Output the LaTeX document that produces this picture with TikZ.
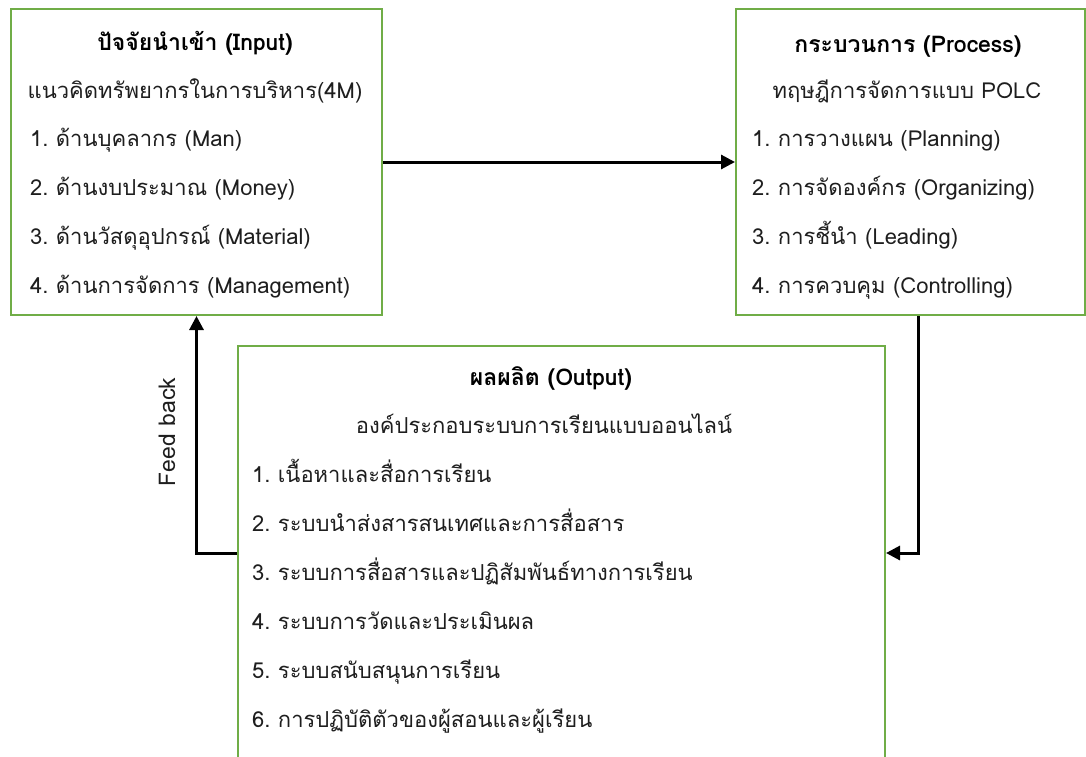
\documentclass[tikz,border=0pt]{standalone}
\usepackage{fontspec}
\setmainfont[Script=Thai]{Loma}
\usetikzlibrary{positioning}
\usetikzlibrary{arrows.meta}
\definecolor{boxgreen}{RGB}{112,173,71}
\definecolor{textgray}{RGB}{30,30,30}
\frenchspacing

\begin{document}
\begin{tikzpicture}[x=1pt, y=-1pt,
			box/.style={draw=boxgreen, line width=2pt, rectangle, anchor=north west, inner sep=0pt},
			txt/.style={font=\fontsize{22}{26}\selectfont, text=textgray, inner sep=0pt, text height=17pt, text depth=7pt},
			title/.style={txt, font=\bfseries\fontsize{23}{27}\selectfont, text=black},
			arrow/.style={-{Triangle[length=14pt, width=14pt]}, line width=3pt}
			]
			\useasboundingbox (0,0) rectangle (1086,756);
			\clip (0,0) rectangle (1086,756);
			
			% Boxes
			\node[box, minimum width=371pt, minimum height=306pt] (inbox) at (10,8) {};
			\node[box, minimum width=349pt, minimum height=306pt] (procbox) at (735,8) {};
			\node[box, minimum width=647pt, minimum height=414pt] (outbox) at (237,345) {};
			
			% Input
			\node[title] (intitle) at (195,45) {ปัจจัยนำเข้า (Input)};
			\node[txt] (insub) at (195,93) {แนวคิดทรัพยากรในการบริหาร(4M)};
			\foreach \t [count=\i] in {ด้านบุคลากร (Man), ด้านงบประมาณ (Money), ด้านวัสดุอุปกรณ์ (Material), ด้านการจัดการ (Management)}
			\node[txt, anchor=west] (initem\i) at (30,{92+49*\i}) {\i. \t};
			
			% Process
			\node[title] (proctitle) at (908,47) {กระบวนการ (Process)};
			\node[txt] (procsub) at (907,93) {ทฤษฎีการจัดการแบบ POLC};
			\foreach \t [count=\i] in {การวางแผน (Planning), การจัดองค์กร (Organizing), การชี้นำ (Leading), การควบคุม (Controlling)}
			\node[txt, anchor=west] (procitem\i) at (752,{92+49*\i}) {\i. \t};
			
			% Output
			\node[title] (outtitle) at (551,380) {ผลผลิต (Output)};
			\node[txt] (outsub) at (544,428) {องค์ประกอบระบบการเรียนแบบออนไลน์};
			\foreach \t [count=\i] in {เนื้อหาและสื่อการเรียน, ระบบนำส่งสารสนเทศและการสื่อสาร, ระบบการสื่อสารและปฏิสัมพันธ์ทางการเรียน, ระบบการวัดและประเมินผล, ระบบสนับสนุนการเรียน, การปฏิบัติตัวของผู้สอนและผู้เรียน}
			\node[txt, anchor=west] (outitem\i) at (252,{428+49*\i}) {\i. \t};
			
			% Feedback label
			\node[txt, rotate=90, font=\fontsize{23}{27}\selectfont] (fbk) at (170,432) {Feed back};
			
			% Connections
			\draw[arrow] (inbox.east) -- (procbox.west);
			\draw[arrow] ([xshift=7.5pt]procbox.south) |- (outbox.east);
			\draw[arrow] (outbox.west) -| (inbox.south);
		\end{tikzpicture}
\end{document}
